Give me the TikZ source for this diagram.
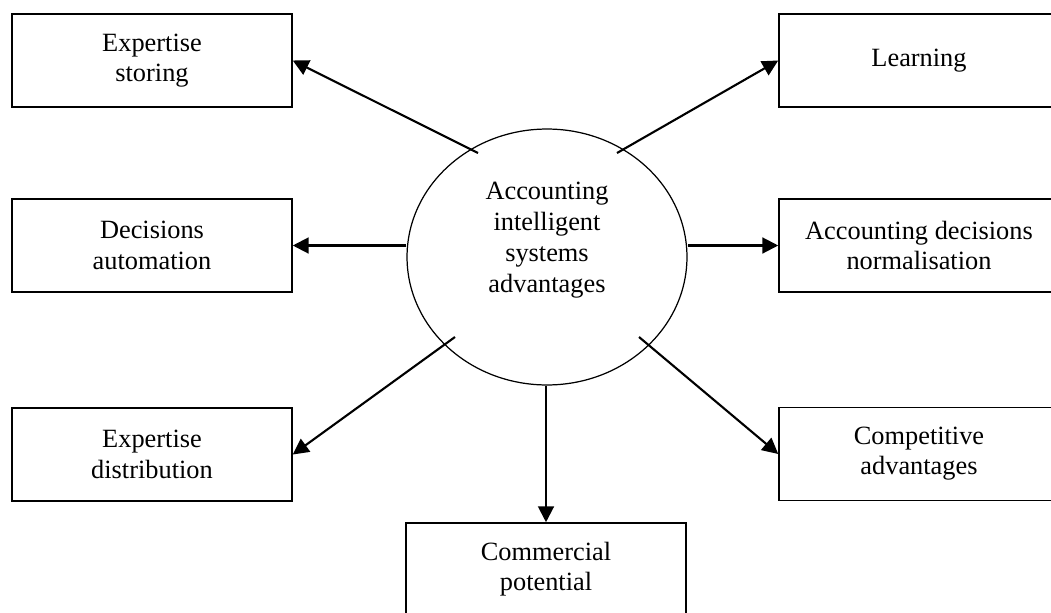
\documentclass[tikz,border=0pt]{standalone}
\usepackage{fontspec}
\setmainfont{Liberation Serif}
\usetikzlibrary{shapes.geometric,arrows.meta}
\tikzset{
  box/.style={draw, line width=0.9pt, rectangle, minimum width=5.6cm, minimum height=1.86cm, inner sep=0pt, align=center, font=\fontsize{15}{17.2}\selectfont},
  hub/.style={draw, line width=0.7pt, ellipse, minimum width=5.6cm, minimum height=5.12cm, inner sep=0pt},
  hubtext/.style={align=center, font=\fontsize{15}{17.6}\selectfont, inner sep=0pt},
  arr/.style={line width=1.2pt, -{Triangle[length=9pt,width=9pt]}}
}
\begin{document}
\begin{tikzpicture}[x=0.02cm, y=-0.02cm]
\useasboundingbox (0,0) rectangle (1051,612);
\clip (0,0) rectangle (1051,612);
\node[hub] (c) at (547,257) {};
\node[hubtext] (ct) at (547,240) {Accounting\\intelligent\\systems\\advantages};
\node[box] (es) at (152,60.5) {Expertise\\storing};
\node[box] (le) at (919,60.5) {Learning};
\node[box] (da) at (152,245.5) {Decisions\\automation};
\node[box] (an) at (919,245.5) {Accounting decisions\\normalisation};
\node[box] (ed) at (152,454.5) {Expertise\\distribution};
\node[box] (ca) at (919,454) {Competitive\\advantages};
\node[box] (cp) at (546,569.5) {Commercial\\potential};
\coordinate (s1) at (478,153);
\coordinate (s2) at (617,153);
\coordinate (s3) at (455,337);
\coordinate (s4) at (639,337);
\draw[arr] (s1) -- (es.east);
\draw[arr] (s2) -- (le.west);
\draw[arr] (da.east -| c.west) -- (da.east);
\draw[arr] (an.west -| c.east) -- (an.west);
\draw[arr] (s3) -- (ed.east);
\draw[arr] (s4) -- (ca.west);
\draw[arr] (c.south -| cp.north) -- (cp.north);
\end{tikzpicture}
\end{document}
